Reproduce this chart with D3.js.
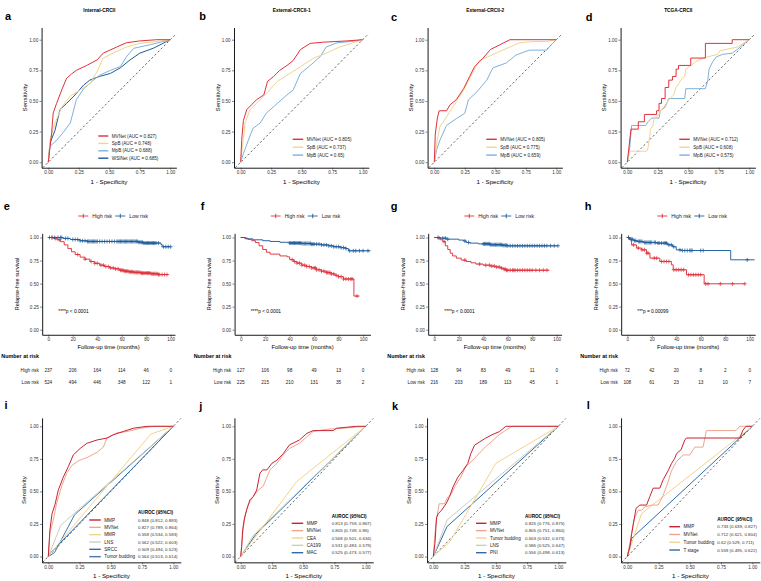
<!DOCTYPE html>
<html>
<head>
<meta charset="utf-8">
<script src="https://cdn.jsdelivr.net/npm/d3@7"></script>
<style>
  body { margin: 0; background: #fff; }
  svg { font-family: "Liberation Sans", Arial, Helvetica, sans-serif; }
</style>
</head>
<body>
<svg id="fig" width="761" height="581"></svg>
<script>
// ---------------- data ----------------
var rocTicks = [0, 0.25, 0.5, 0.75, 1];
var kmTicks = [0, 20, 40, 60, 80, 100];
var survTicks = [0, 0.25, 0.5, 0.75, 1];

// row 1 ROC curves: [1 - specificity, sensitivity]
var aMVNet = [[0,0],[0.027,0.236],[0.04,0.40],[0.068,0.48],[0.11,0.59],[0.15,0.685],[0.19,0.72],[0.23,0.75],[0.315,0.79],[0.40,0.835],[0.45,0.89],[0.56,0.94],[0.64,0.975],[0.75,0.99],[0.89,1],[1,1]];
var aSpB = [[0,0],[0.014,0.18],[0.055,0.32],[0.11,0.45],[0.18,0.54],[0.26,0.59],[0.34,0.64],[0.40,0.74],[0.45,0.85],[0.53,0.89],[0.64,0.94],[0.75,0.97],[0.89,0.985],[1,1]];
var aMpB = [[0,0],[0.014,0.13],[0.07,0.18],[0.12,0.24],[0.18,0.32],[0.23,0.51],[0.29,0.60],[0.37,0.67],[0.42,0.71],[0.51,0.75],[0.59,0.78],[0.64,0.86],[0.70,0.93],[0.84,0.96],[1,1]];
var aWSINet = [[0,0],[0.014,0.155],[0.055,0.26],[0.096,0.43],[0.15,0.48],[0.21,0.54],[0.29,0.63],[0.34,0.67],[0.42,0.70],[0.51,0.725],[0.59,0.77],[0.67,0.835],[0.75,0.89],[0.86,0.93],[0.97,0.985],[1,1]];
var aLabels = ["MVNet (AUC = 0.827)", "SpB (AUC = 0.748)", "MpB (AUC = 0.688)", "WSINet (AUC = 0.685)"];

var bMVNet = [[0,0],[0.008,0.18],[0.022,0.34],[0.05,0.43],[0.09,0.47],[0.13,0.51],[0.19,0.55],[0.22,0.66],[0.27,0.70],[0.32,0.75],[0.38,0.79],[0.43,0.83],[0.49,0.92],[0.57,0.97],[0.68,0.98],[0.87,0.99],[1,1]];
var bSpB = [[0,0],[0.014,0.125],[0.036,0.32],[0.077,0.43],[0.13,0.48],[0.21,0.56],[0.30,0.66],[0.38,0.71],[0.49,0.78],[0.60,0.85],[0.70,0.89],[0.81,0.94],[0.92,0.975],[1,1]];
var bMpB = [[0,0],[0.022,0.07],[0.063,0.18],[0.10,0.275],[0.16,0.32],[0.21,0.40],[0.30,0.48],[0.38,0.55],[0.43,0.59],[0.49,0.725],[0.57,0.79],[0.65,0.86],[0.70,0.94],[0.79,0.975],[0.90,0.985],[1,1]];
var bLabels = ["MVNet (AUC = 0.805)", "SpB (AUC = 0.737)", "MpB (AUC = 0.65)"];

var cMVNet = [[0,0],[0.008,0.23],[0.025,0.36],[0.04,0.42],[0.10,0.42],[0.13,0.47],[0.18,0.51],[0.24,0.60],[0.29,0.70],[0.33,0.78],[0.40,0.85],[0.46,0.92],[0.54,0.96],[0.62,1],[1,1]];
var cSpB = [[0,0],[0.019,0.15],[0.046,0.29],[0.10,0.37],[0.155,0.455],[0.24,0.59],[0.32,0.74],[0.37,0.83],[0.46,0.87],[0.56,0.915],[0.70,0.975],[0.81,0.985],[0.92,0.985],[1,1]];
var cMpB = [[0,0],[0.019,0.10],[0.046,0.18],[0.10,0.30],[0.18,0.355],[0.25,0.40],[0.28,0.51],[0.35,0.575],[0.43,0.67],[0.48,0.77],[0.59,0.81],[0.67,0.875],[0.78,0.915],[0.92,0.915],[0.97,0.97],[1,1]];
var cLabels = ["MVNet (AUC = 0.805)", "SpB (AUC = 0.775)", "MpB (AUC = 0.659)"];

var dMVNet = [[0,0],[0.03,0.27],[0.09,0.27],[0.09,0.33],[0.14,0.33],[0.14,0.39],[0.24,0.39],[0.24,0.42],[0.26,0.42],[0.26,0.48],[0.28,0.48],[0.28,0.52],[0.31,0.52],[0.31,0.61],[0.34,0.61],[0.34,0.67],[0.37,0.67],[0.37,0.70],[0.40,0.70],[0.40,0.76],[0.42,0.76],[0.42,0.79],[0.52,0.79],[0.52,0.85],[0.64,0.85],[0.64,0.97],[0.86,0.97],[0.86,1],[1,1]];
var dSpB = [[0,0],[0.02,0.09],[0.16,0.09],[0.17,0.12],[0.18,0.18],[0.19,0.27],[0.21,0.30],[0.22,0.36],[0.26,0.39],[0.27,0.42],[0.30,0.45],[0.32,0.48],[0.35,0.52],[0.38,0.55],[0.40,0.61],[0.42,0.64],[0.44,0.67],[0.47,0.70],[0.48,0.76],[0.52,0.79],[0.56,0.82],[0.62,0.85],[0.74,0.88],[0.76,0.91],[0.90,0.94],[0.95,0.97],[1,1]];
var dMpB = [[0,0],[0.02,0.12],[0.035,0.30],[0.15,0.30],[0.17,0.33],[0.20,0.36],[0.26,0.36],[0.27,0.42],[0.31,0.45],[0.34,0.52],[0.47,0.52],[0.48,0.60],[0.64,0.60],[0.66,0.67],[0.67,0.76],[0.70,0.82],[0.73,0.86],[0.78,0.88],[0.86,0.89],[0.90,0.92],[0.95,0.96],[1,1]];
var dLabels = ["MVNet (AUC = 0.712)", "SpB (AUC = 0.608)", "MpB (AUC = 0.575)"];

// row 2 Kaplan-Meier: [month, survival] steps, censor months, numbers at risk
var eHigh = [[0,1],[4,0.99],[7,0.975],[10,0.955],[13,0.92],[16,0.88],[19,0.845],[22,0.815],[26,0.787],[30,0.765],[34,0.74],[38,0.72],[42,0.70],[46,0.685],[50,0.67],[54,0.66],[58,0.645],[62,0.635],[66,0.628],[70,0.622],[76,0.614],[84,0.607],[90,0.598],[98,0.598]];
var eLow = [[0,1],[12,0.99],[18,0.978],[26,0.965],[32,0.957],[74,0.948],[78,0.94],[92,0.925],[93,0.9],[100,0.9]];
var eHighCens = [3,6,9,24,30,35,38,40,43,45,47,49,51,53,55,57,59,60,61,62,63,64,65,66,67,68,69,70,71,72,73,74,75,76,77,78,79,80,81,82,83,84,85,86,87,88,89,90,91,93,95,97];
var eLowCens = [1,3,5,8,10,11,14,16,20,22,24,26,28,30,32,33,34,35,36,37,38,39,40,42,44,46,48,50,52,54,56,57,58,59,60,61,62,63,64,65,66,67,68,69,70,71,72,73,74,75,76,77,78,79,80,81,82,83,84,85,86,87,88,90,94,96,98,100];
var eRiskHigh = [237, 206, 164, 114, 46, 0];
var eRiskLow = [524, 494, 446, 348, 122, 1];

var fHigh = [[0,1],[3,0.993],[6,0.98],[9,0.965],[12,0.945],[15,0.91],[18,0.87],[21,0.84],[24,0.82],[32,0.80],[38,0.79],[40,0.76],[43,0.74],[46,0.722],[50,0.70],[54,0.685],[58,0.67],[62,0.65],[66,0.635],[70,0.62],[74,0.605],[77,0.59],[80,0.575],[84,0.55],[92.5,0.365],[97,0.365]];
var fLow = [[0,1],[4,0.985],[10,0.975],[18,0.965],[24,0.957],[32,0.948],[40,0.94],[50,0.935],[58,0.928],[66,0.92],[72,0.91],[76,0.90],[82,0.89],[86,0.88],[88,0.856],[106,0.856]];
var fHighCens = [42,44,46,48,50,52,54,56,58,60,61,62,64,66,68,70,71,72,73,74,76,78,80,82,84,86,88,90,91,95];
var fLowCens = [40,41,42,43,44,45,46,47,48,49,50,51,52,53,54,55,56,57,58,59,60,62,64,66,68,70,72,74,76,78,80,82,84,86,89,92,94,97,100,104];
var fRiskHigh = [127, 106, 98, 49, 13, 0];
var fRiskLow = [225, 215, 210, 131, 35, 2];

var gHigh = [[0,1],[3,0.993],[5,0.975],[7,0.955],[9,0.91],[11,0.87],[13,0.83],[15,0.80],[18,0.776],[22,0.755],[26,0.74],[30,0.725],[34,0.712],[40,0.70],[46,0.69],[50,0.68],[54,0.668],[57,0.655],[59,0.645],[94,0.645]];
var gLow = [[0,1],[5,0.993],[10,0.982],[20,0.972],[24,0.962],[26,0.946],[29,0.939],[36,0.931],[46,0.922],[56,0.915],[60,0.91],[101,0.91]];
var gHighCens = [4,8,25,37,42,45,47,49,51,53,55,57,58,59,60,62,64,65,66,68,70,72,74,76,78,80,83,86,89,92];
var gLowCens = [3,7,9,11,25,28,40,41,42,43,44,45,46,47,48,49,50,51,52,53,54,55,56,57,58,59,60,62,64,66,68,70,72,74,76,78,80,82,84,86,88,90,92,95,98,101];
var gRiskHigh = [128, 94, 83, 49, 11, 0];
var gRiskLow = [216, 203, 189, 113, 45, 1];

var hHigh = [[0,1],[2,0.975],[3.5,0.92],[7.6,0.885],[11.7,0.866],[15.8,0.83],[18.5,0.776],[26.6,0.74],[36,0.704],[37.5,0.65],[48.4,0.596],[62.8,0.498],[96,0.498]];
var hLow = [[0,1],[2,0.982],[5,0.966],[8,0.957],[13,0.946],[24,0.939],[33,0.92],[37,0.90],[40,0.866],[44,0.859],[84.5,0.758],[104,0.758]];
var hHighCens = [1,5,9,12,14,16,17,22,24,28,30,32,34,38,40,42,44,46,50,52,54,56,58,60,64,66,76,86,96];
var hLowCens = [1,3,4,6,7,9,10,11,12,14,15,16,17,18,19,20,22,23,25,26,28,30,31,32,34,36,38,43,45,47,49,51,52,53,60,62,98];
var hRiskHigh = [72, 42, 20, 8, 2, 0];
var hRiskLow = [108, 61, 23, 13, 10, 7];

var pValues = ["****p < 0.0001", "****p < 0.0001", "****p < 0.0001", "***p = 0.00099"];

// row 3 ROC curves
var iMMP = [[0,0],[0.013,0.205],[0.03,0.33],[0.054,0.40],[0.08,0.51],[0.12,0.61],[0.16,0.69],[0.20,0.78],[0.255,0.83],[0.31,0.87],[0.39,0.895],[0.47,0.91],[0.52,0.935],[0.60,0.96],[0.68,0.985],[0.79,1],[1,1]];
var iMVNet = [[0,0],[0.013,0.18],[0.04,0.28],[0.067,0.41],[0.107,0.54],[0.147,0.64],[0.19,0.70],[0.24,0.735],[0.31,0.76],[0.39,0.80],[0.44,0.84],[0.47,0.91],[0.55,0.95],[0.63,0.96],[0.74,0.985],[0.845,1],[1,1]];
var iMMR = [[0,0],[0.10,0.12],[0.82,0.94],[1,1]];
var iLNS = [[0,0],[0.10,0.24],[1,1]];
var iSRCC = [[0,0],[0.03,0.04],[1,1]];
var iTB = [[0,0],[0.05,0.03],[0.21,0.32],[1,1]];
var iNames = ["MMP", "MVNet", "MMR", "LNS", "SRCC", "Tumor budding"];
var iAuc = ["0.848 (0.812, 0.883)", "0.827 (0.789, 0.864)", "0.558 (0.534, 0.583)", "0.562 (0.522, 0.603)", "0.509 (0.494, 0.523)", "0.564 (0.513, 0.614)"];

var jMMP = [[0,0],[0.008,0.077],[0.016,0.205],[0.027,0.28],[0.048,0.36],[0.074,0.435],[0.10,0.46],[0.128,0.51],[0.154,0.64],[0.176,0.665],[0.21,0.665],[0.25,0.716],[0.29,0.74],[0.34,0.79],[0.39,0.857],[0.47,0.895],[0.53,0.946],[0.58,0.967],[0.74,0.967],[0.766,0.985],[0.925,1],[1,1]];
var jMVNet = [[0,0],[0.016,0.18],[0.035,0.31],[0.061,0.40],[0.10,0.46],[0.14,0.51],[0.18,0.54],[0.21,0.61],[0.234,0.665],[0.29,0.716],[0.34,0.78],[0.39,0.83],[0.47,0.87],[0.53,0.92],[0.58,0.96],[0.686,0.977],[0.82,0.985],[1,1]];
var jCEA = [[0,0],[0.447,0.575],[1,1]];
var jCA199 = [[0,0],[0.10,0.162],[1,1]];
var jMAC = [[0,0],[0.12,0.17],[1,1]];
var jNames = ["MMP", "MVNet", "CEA", "CA199", "MAC"];
var jAuc = ["0.813 (0.759, 0.867)", "0.805 (0.749, 0.86)", "0.568 (0.501, 0.634)", "0.531 (0.483, 0.579)", "0.525 (0.473, 0.577)"];

var kMMP = [[0,0],[0.013,0.10],[0.026,0.30],[0.04,0.33],[0.066,0.355],[0.105,0.41],[0.13,0.46],[0.158,0.535],[0.197,0.61],[0.237,0.66],[0.276,0.715],[0.30,0.79],[0.33,0.855],[0.37,0.88],[0.42,0.91],[0.47,0.935],[0.53,0.96],[0.58,1],[1,1]];
var kMVNet = [[0,0],[0.02,0.25],[0.047,0.405],[0.09,0.405],[0.118,0.46],[0.145,0.48],[0.17,0.535],[0.22,0.61],[0.26,0.69],[0.316,0.74],[0.37,0.795],[0.42,0.845],[0.47,0.885],[0.526,0.935],[0.58,0.97],[0.63,1],[1,1]];
var kTB = [[0,0],[0.13,0.11],[0.50,0.715],[1,1]];
var kLNS = [[0,0],[0.11,0.28],[1,1]];
var kPNI = [[0,0],[0.11,0.23],[1,1]];
var kNames = ["MMP", "MVNet", "Tumor budding", "LNS", "PNI"];
var kAuc = ["0.826 (0.776, 0.875)", "0.805 (0.751, 0.860)", "0.603 (0.532, 0.673)", "0.586 (0.525, 0.647)", "0.556 (0.498, 0.613)"];

var lMMP = [[0,0],[0.02,0.07],[0.035,0.175],[0.048,0.25],[0.07,0.37],[0.10,0.395],[0.154,0.395],[0.18,0.46],[0.207,0.525],[0.26,0.525],[0.287,0.59],[0.327,0.66],[0.354,0.715],[0.38,0.755],[0.394,0.79],[0.43,0.82],[0.46,0.895],[0.473,0.91],[0.90,0.91],[0.925,0.97],[0.95,1],[1,1]];
var lMVNet = [[0,0],[0.02,0.10],[0.048,0.25],[0.06,0.30],[0.088,0.355],[0.114,0.355],[0.14,0.38],[0.194,0.395],[0.247,0.395],[0.287,0.47],[0.327,0.575],[0.354,0.66],[0.394,0.73],[0.447,0.78],[0.50,0.78],[0.54,0.84],[0.606,0.84],[0.633,0.967],[0.87,0.967],[0.90,1],[1,1]];
var lTB = [[0,0],[0.114,0.33],[1,1]];
var lTStage = [[0,0],[0.035,0.14],[1,1]];
var lNames = ["MMP", "MVNet", "Tumor budding", "T stage"];
var lAuc = ["0.733 (0.639, 0.827)", "0.712 (0.621, 0.804)", "0.62 (0.529, 0.711)", "0.559 (0.495, 0.622)"];

// ---------------- drawing ----------------
var FONT = '"Liberation Sans", Arial, Helvetica, sans-serif';
var RED = "#E0313C", YEL = "#F1D48E", LBLUE = "#80B1D9", DBLUE = "#1F5A9E";
var DRED = "#C82430", SALMON = "#F2A48F", GREY = "#C8D0BC", BLUE = "#2F6BAA", SBLUE = "#4479B0";
var HIGHC = "#E0313C", LOWC = "#1F5D9C";

var svg = d3.select("#fig");

function text(g, x, y, s, size, opt) {
  opt = opt || {};
  var t = g.append("text").attr("x", x).attr("y", y).text(s)
    .attr("font-size", size).attr("font-family", FONT)
    .attr("fill", opt.fill || "#000")
    .attr("text-anchor", opt.anchor || "start")
    .attr("dy", opt.dy == null ? "0.35em" : opt.dy);
  if (opt.weight) t.attr("font-weight", opt.weight);
  if (opt.rotate) t.attr("transform", "rotate(-90," + x + "," + y + ")");
  return t;
}

function axes(g, x, y, xt, yt, fx, fy) {
  var ax = g.append("g").attr("transform", "translate(0," + y.range()[0] + ")")
    .call(d3.axisBottom(x).tickValues(xt).tickFormat(fx).tickSizeInner(2).tickSizeOuter(0).tickPadding(1.4));
  var ay = g.append("g").attr("transform", "translate(" + x.range()[0] + ",0)")
    .call(d3.axisLeft(y).tickValues(yt).tickFormat(fy).tickSizeInner(2).tickSizeOuter(0).tickPadding(1.4));
  [ax, ay].forEach(function(a) {
    a.select(".domain").attr("stroke", "#000").attr("stroke-width", 0.9);
    a.selectAll(".tick line").attr("stroke", "#333").attr("stroke-width", 0.6);
    a.selectAll(".tick text").attr("fill", "#333").attr("font-size", 4.6).attr("font-family", FONT);
  });
}

function rocPanel(o) {
  var g = svg.append("g");
  var x = d3.scaleLinear().domain(o.xd).range([o.x0 + o.xd[0] * o.w, o.x0 + o.xd[1] * o.w]);
  var y = d3.scaleLinear().domain(o.yd).range([o.y0 - o.yd[0] * o.h, o.y0 - o.yd[1] * o.h]);
  var d0 = Math.max(o.xd[0], o.yd[0]), d1 = Math.min(o.xd[1], o.yd[1]);
  g.append("line").attr("x1", x(d0)).attr("y1", y(d0)).attr("x2", x(d1)).attr("y2", y(d1))
    .attr("stroke", "#222").attr("stroke-width", 0.7).attr("stroke-dasharray", "2.2,2.2");
  var line = d3.line().x(function(d) { return x(d[0]); }).y(function(d) { return y(d[1]); });
  o.curves.slice().reverse().forEach(function(c) {
    g.append("path").attr("d", line(c.pts)).attr("fill", "none")
      .attr("stroke", c.color).attr("stroke-width", 1).attr("stroke-linejoin", "round");
  });
  axes(g, x, y, rocTicks, rocTicks, d3.format(".2f"), d3.format(".2f"));
  var xr = x.range(), yr = y.range();
  text(g, (xr[0] + xr[1]) / 2, o.xTitleY, "1 - Specificity", 6.2, { anchor: "middle" });
  text(g, o.x0 - o.yTitleDx, (yr[0] + yr[1]) / 2, "Sensitivity", 6.2, { anchor: "middle", rotate: true });
  text(g, o.letterX, o.letterY, o.letter, 11, { anchor: "middle", weight: "bold" });
  if (o.title) text(g, o.x0 + 51, 10, o.title, 4.8, { anchor: "middle", weight: "bold" });

  // legend
  var L = o.legend;
  if (L.header) text(g, o.x0 + L.valX, L.headerY, L.header, 4.6, { weight: "bold" });
  o.curves.forEach(function(c, i) {
    var yy = L.y + i * L.dy;
    g.append("line").attr("x1", o.x0 + L.keyX).attr("x2", o.x0 + L.keyX + L.keyW)
      .attr("y1", yy).attr("y2", yy).attr("stroke", c.color).attr("stroke-width", 1.4);
    text(g, o.x0 + L.keyX + L.keyW + 3.5, yy, c.name, 4.6, { fill: "#222" });
    if (c.auc) text(g, o.x0 + L.valX, yy, c.auc, 4.4, { fill: "#333" });
  });
}

function survAt(pts, t) {
  var s = pts[0][1];
  pts.forEach(function(p) { if (p[0] <= t) s = p[1]; });
  return s;
}

function kmPanel(o) {
  var g = svg.append("g");
  var u = 1.224, h = 92.2, y0 = 329.7;
  var x = d3.scaleLinear().domain([-5, o.xmax]).range([o.x0 - 5 * u, o.x0 + o.xmax * u]);
  var y = d3.scaleLinear().domain([-0.055, 1.045]).range([y0 + 0.055 * h, y0 - 1.045 * h]);
  var line = d3.line().curve(d3.curveStepAfter).x(function(d) { return x(d[0]); }).y(function(d) { return y(d[1]); });
  [[o.high, o.highCens, HIGHC], [o.low, o.lowCens, LOWC]].forEach(function(s) {
    g.append("path").attr("d", line(s[0])).attr("fill", "none").attr("stroke", s[2]).attr("stroke-width", 0.95);
    g.selectAll(null).data(s[1]).enter().append("path")
      .attr("d", function(t) {
        var cx = x(t), cy = y(survAt(s[0], t));
        return "M" + (cx - 2) + "," + cy + "H" + (cx + 2) + "M" + cx + "," + (cy - 2) + "V" + (cy + 2);
      })
      .attr("stroke", s[2]).attr("stroke-width", 0.75).attr("fill", "none");
  });
  axes(g, x, y, kmTicks, survTicks, d3.format("d"), d3.format(".2f"));
  var xr = x.range(), yr = y.range();
  text(g, (xr[0] + xr[1]) / 2, 346.7, "Follow-up time (months)", 5.8, { anchor: "middle" });
  text(g, o.x0 - 31.5, (yr[0] + yr[1]) / 2, "Relapse-free survival", 5.6, { anchor: "middle", rotate: true });
  text(g, o.letterX, 206.5, o.letter, 11, { anchor: "middle", weight: "bold" });
  text(g, x(0) + 10, y(0.2), o.p, 4.8, {});

  // legend
  [["High risk", HIGHC, 30], ["Low risk", LOWC, 67]].forEach(function(k) {
    var kx = o.x0 + k[2], ky = 216;
    g.append("line").attr("x1", kx).attr("x2", kx + 10).attr("y1", ky).attr("y2", ky)
      .attr("stroke", k[1]).attr("stroke-width", 0.9);
    g.append("line").attr("x1", kx + 5).attr("x2", kx + 5).attr("y1", ky - 2.2).attr("y2", ky + 2.2)
      .attr("stroke", k[1]).attr("stroke-width", 0.9);
    text(g, kx + 14, ky, k[0], 5.1, { fill: "#222" });
  });

  // risk table
  text(g, o.x0 - 47, 355.8, "Number at risk", 5.4, { weight: "bold" });
  [["High risk", o.riskHigh, 370], ["Low risk", o.riskLow, 382.3]].forEach(function(r) {
    text(g, o.x0 - 9.5, r[2], r[0], 4.7, { anchor: "end", fill: "#222" });
    kmTicks.forEach(function(t, i) {
      text(g, x(t), r[2], r[1][i], 4.7, { anchor: "middle", fill: "#222" });
    });
  });
}

// ---- row 1 ----
var row1 = { xd: [-0.055, 1.05], yd: [-0.045, 1.10], w: 122, h: 122.5, y0: 162.2, xTitleY: 182, yTitleDx: 23.3 };
var topLeg4 = { keyX: 50, keyW: 10, y: 136, dy: 7.4, valX: 0 };
var topLeg3 = { keyX: 52, keyW: 10.5, y: 139.3, dy: 7.9, valX: 0 };
function mk(a, b) { return Object.assign({}, a, b); }
function curves(pts, colors, names, aucs) {
  return pts.map(function(p, i) { return { pts: p, color: colors[i], name: names[i], auc: aucs ? aucs[i] : null }; });
}

rocPanel(mk(row1, { x0: 48.3, letter: "a", letterX: 8, letterY: 16.5, title: "Internal-CRCII", legend: topLeg4,
  curves: curves([aMVNet, aSpB, aMpB, aWSINet], [RED, YEL, LBLUE, DBLUE], aLabels) }));
rocPanel(mk(row1, { x0: 240.7, letter: "b", letterX: 202.7, letterY: 16.5, title: "External-CRCII-1", legend: topLeg3,
  curves: curves([bMVNet, bSpB, bMpB], [RED, YEL, LBLUE], bLabels) }));
rocPanel(mk(row1, { x0: 434.3, letter: "c", letterX: 394, letterY: 17, title: "External-CRCII-2", legend: topLeg3,
  curves: curves([cMVNet, cSpB, cMpB], [RED, YEL, LBLUE], cLabels) }));
rocPanel(mk(row1, { x0: 627.3, letter: "d", letterX: 589, letterY: 17, title: "TCGA-CRCII", legend: topLeg3,
  curves: curves([dMVNet, dSpB, dMpB], [RED, YEL, LBLUE], dLabels) }));

// ---- row 2 ----
kmPanel({ x0: 48.3, xmax: 103.5, letter: "e", letterX: 6.7, high: eHigh, low: eLow, highCens: eHighCens, lowCens: eLowCens, riskHigh: eRiskHigh, riskLow: eRiskLow, p: pValues[0] });
kmPanel({ x0: 240.7, xmax: 106, letter: "f", letterX: 202.7, high: fHigh, low: fLow, highCens: fHighCens, lowCens: fLowCens, riskHigh: fRiskHigh, riskLow: fRiskLow, p: pValues[1] });
kmPanel({ x0: 434.3, xmax: 104, letter: "g", letterX: 394, high: gHigh, low: gLow, highCens: gHighCens, lowCens: gLowCens, riskHigh: gRiskHigh, riskLow: gRiskLow, p: pValues[2] });
kmPanel({ x0: 627.3, xmax: 104.5, letter: "h", letterX: 588, high: hHigh, low: hLow, highCens: hHighCens, lowCens: hLowCens, riskHigh: hRiskHigh, riskLow: hRiskLow, p: pValues[3] });

// ---- row 3 ----
var row3 = { xd: [-0.05, 1.06], yd: [-0.045, 1.065], w: 125, h: 130.2, y0: 556.5, xTitleY: 576, yTitleDx: 24.3 };
rocPanel(mk(row3, { x0: 48.3, letter: "i", letterX: 6, letterY: 405,
  legend: { keyX: 41, keyW: 11.5, y: 520, dy: 7.33, valX: 89.7, header: "AUROC (95%CI)", headerY: 512.7 },
  curves: curves([iMMP, iMVNet, iMMR, iLNS, iSRCC, iTB], [DRED, SALMON, YEL, GREY, BLUE, SBLUE], iNames, iAuc) }));
rocPanel(mk(row3, { x0: 240.7, letter: "j", letterX: 200.7, letterY: 406,
  legend: { keyX: 51, keyW: 11.5, y: 523.3, dy: 7.35, valX: 91, header: "AUROC (95%CI)", headerY: 516 },
  curves: curves([jMMP, jMVNet, jCEA, jCA199, jMAC], [DRED, SALMON, YEL, GREY, BLUE], jNames, jAuc) }));
rocPanel(mk(row3, { x0: 433.3, letter: "k", letterX: 395, letterY: 406,
  legend: { keyX: 42.7, keyW: 10.5, y: 523.3, dy: 7.35, valX: 91.7, header: "AUROC (95%CI)", headerY: 516 },
  curves: curves([kMMP, kMVNet, kTB, kLNS, kPNI], [DRED, SALMON, YEL, GREY, BLUE], kNames, kAuc) }));
rocPanel(mk(row3, { x0: 627.3, letter: "l", letterX: 588.3, letterY: 405,
  legend: { keyX: 42, keyW: 10.7, y: 526.7, dy: 7.77, valX: 90, header: "AUROC (95%CI)", headerY: 519.3 },
  curves: curves([lMMP, lMVNet, lTB, lTStage], [DRED, SALMON, YEL, BLUE], lNames, lAuc) }));
</script>
</body>
</html>
